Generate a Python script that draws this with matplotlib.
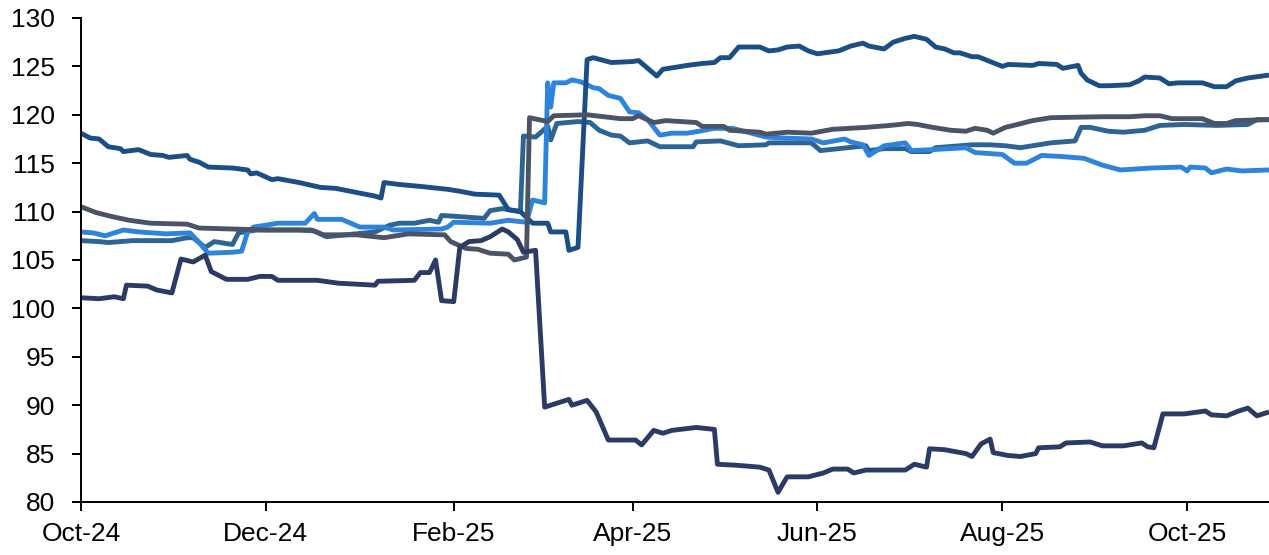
import matplotlib
matplotlib.use("Agg")
import matplotlib.pyplot as plt
import matplotlib.dates as mdates
import pandas as pd

# serie 1: azul marino (cae en marzo hasta ~90)
fechas_a = ["2024-10-01", "2024-10-07", "2024-10-12", "2024-10-15", "2024-10-16", "2024-10-23",
            "2024-10-26", "2024-10-31", "2024-11-03", "2024-11-07", "2024-11-11", "2024-11-13",
            "2024-11-18", "2024-11-25", "2024-11-29", "2024-12-03", "2024-12-05", "2024-12-18",
            "2024-12-25", "2025-01-06", "2025-01-07", "2025-01-19", "2025-01-21", "2025-01-24",
            "2025-01-26", "2025-01-28", "2025-02-01", "2025-02-03", "2025-02-06", "2025-02-10",
            "2025-02-13", "2025-02-17", "2025-02-19", "2025-02-22", "2025-02-24", "2025-02-28",
            "2025-03-03", "2025-03-07", "2025-03-11", "2025-03-12", "2025-03-17", "2025-03-20",
            "2025-03-24", "2025-04-02", "2025-04-04", "2025-04-08", "2025-04-11", "2025-04-14",
            "2025-04-22", "2025-04-28", "2025-04-29", "2025-05-05", "2025-05-13", "2025-05-16",
            "2025-05-19", "2025-05-22", "2025-05-29", "2025-06-03", "2025-06-06", "2025-06-11",
            "2025-06-13", "2025-06-17", "2025-06-30", "2025-07-03", "2025-07-07", "2025-07-08",
            "2025-07-13", "2025-07-20", "2025-07-22", "2025-07-25", "2025-07-28", "2025-07-29",
            "2025-08-03", "2025-08-07", "2025-08-12", "2025-08-13", "2025-08-20", "2025-08-22",
            "2025-08-30", "2025-09-03", "2025-09-10", "2025-09-16", "2025-09-18", "2025-09-20",
            "2025-09-23", "2025-09-30", "2025-10-07", "2025-10-09", "2025-10-14", "2025-10-18",
            "2025-10-21", "2025-10-24", "2025-10-28"]
valores_a = [101.1, 101.0, 101.2, 101.0, 102.4, 102.3,
             101.9, 101.6, 105.1, 104.8, 105.5, 103.8,
             103.0, 103.0, 103.3, 103.3, 102.9, 102.9,
             102.6, 102.4, 102.8, 102.9, 103.7, 103.7,
             105.0, 100.8, 100.7, 106.3, 106.9, 107.0,
             107.4, 108.2, 107.9, 107.1, 105.8, 106.0,
             89.8, 90.2, 90.6, 90.0, 90.5, 89.3,
             86.4, 86.4, 85.9, 87.4, 87.1, 87.4,
             87.7, 87.5, 83.9, 83.8, 83.6, 83.3,
             81.0, 82.6, 82.6, 83.0, 83.4, 83.4,
             83.0, 83.3, 83.3, 83.9, 83.6, 85.5,
             85.4, 85.0, 84.7, 86.0, 86.5, 85.1,
             84.8, 84.7, 85.0, 85.6, 85.7, 86.1,
             86.2, 85.8, 85.8, 86.1, 85.7, 85.6,
             89.1, 89.1, 89.4, 89.0, 88.9, 89.4,
             89.7, 88.9, 89.3]

# serie 2: azul oscuro (salta a ~126 a mediados de marzo)
fechas_b = ["2024-10-01", "2024-10-04", "2024-10-07", "2024-10-10", "2024-10-14", "2024-10-15",
            "2024-10-20", "2024-10-24", "2024-10-28", "2024-10-30", "2024-11-05", "2024-11-06",
            "2024-11-09", "2024-11-12", "2024-11-20", "2024-11-25", "2024-11-26", "2024-11-28",
            "2024-12-03", "2024-12-05", "2024-12-12", "2024-12-19", "2024-12-24", "2025-01-06",
            "2025-01-08", "2025-01-09", "2025-01-14", "2025-01-21", "2025-01-30", "2025-02-03",
            "2025-02-08", "2025-02-16", "2025-02-19", "2025-02-23", "2025-02-25", "2025-02-27",
            "2025-03-04", "2025-03-05", "2025-03-10", "2025-03-11", "2025-03-14", "2025-03-17",
            "2025-03-19", "2025-03-25", "2025-04-01", "2025-04-03", "2025-04-06", "2025-04-09",
            "2025-04-11", "2025-04-15", "2025-04-19", "2025-04-24", "2025-04-28", "2025-04-30",
            "2025-05-03", "2025-05-06", "2025-05-13", "2025-05-16", "2025-05-19", "2025-05-22",
            "2025-05-26", "2025-05-29", "2025-06-01", "2025-06-08", "2025-06-12", "2025-06-16",
            "2025-06-18", "2025-06-23", "2025-06-26", "2025-06-30", "2025-07-03", "2025-07-07",
            "2025-07-10", "2025-07-13", "2025-07-16", "2025-07-18", "2025-07-22", "2025-07-24",
            "2025-07-28", "2025-08-01", "2025-08-03", "2025-08-11", "2025-08-13", "2025-08-19",
            "2025-08-21", "2025-08-26", "2025-08-27", "2025-08-29", "2025-09-02", "2025-09-05",
            "2025-09-12", "2025-09-15", "2025-09-17", "2025-09-22", "2025-09-25", "2025-09-28",
            "2025-10-06", "2025-10-10", "2025-10-14", "2025-10-17", "2025-10-21", "2025-10-28"]
valores_b = [118.1, 117.6, 117.5, 116.7, 116.5, 116.2,
             116.4, 115.9, 115.8, 115.6, 115.8, 115.4,
             115.1, 114.6, 114.5, 114.3, 113.9, 114.0,
             113.3, 113.4, 113.0, 112.5, 112.4, 111.6,
             111.4, 113.0, 112.8, 112.6, 112.3, 112.1,
             111.8, 111.7, 110.2, 110.0, 109.4, 108.8,
             108.8, 107.9, 107.9, 106.0, 106.3, 125.7,
             125.9, 125.4, 125.5, 125.6, 124.8, 124.0,
             124.7, 124.9, 125.1, 125.3, 125.4, 125.9,
             125.9, 127.0, 127.0, 126.6, 126.7, 127.0,
             127.1, 126.6, 126.3, 126.6, 127.1, 127.4,
             127.1, 126.8, 127.5, 127.9, 128.1, 127.8,
             127.0, 126.8, 126.4, 126.4, 126.0, 126.0,
             125.5, 125.0, 125.2, 125.1, 125.3, 125.2,
             124.8, 125.1, 124.3, 123.6, 123.0, 123.0,
             123.1, 123.5, 123.9, 123.8, 123.2, 123.3,
             123.3, 122.9, 122.9, 123.5, 123.8, 124.1]

# serie 3: azul claro (salta a ~123 a principios de marzo)
fechas_c = ["2024-10-01", "2024-10-05", "2024-10-09", "2024-10-15", "2024-10-20", "2024-10-29",
            "2024-11-06", "2024-11-09", "2024-11-12", "2024-11-20", "2024-11-23", "2024-11-25",
            "2024-11-27", "2024-12-05", "2024-12-14", "2024-12-17", "2024-12-18", "2024-12-26",
            "2025-01-01", "2025-01-09", "2025-01-12", "2025-01-28", "2025-01-30", "2025-02-01",
            "2025-02-13", "2025-02-19", "2025-02-25", "2025-02-27", "2025-03-03", "2025-03-04",
            "2025-03-05", "2025-03-06", "2025-03-10", "2025-03-12", "2025-03-15", "2025-03-19",
            "2025-03-21", "2025-03-24", "2025-03-28", "2025-03-31", "2025-04-03", "2025-04-06",
            "2025-04-10", "2025-04-14", "2025-04-19", "2025-04-23", "2025-04-28", "2025-05-04",
            "2025-05-09", "2025-05-15", "2025-05-21", "2025-05-30", "2025-06-03", "2025-06-10",
            "2025-06-12", "2025-06-16", "2025-06-18", "2025-06-23", "2025-06-30", "2025-07-02",
            "2025-07-09", "2025-07-20", "2025-07-23", "2025-08-01", "2025-08-05", "2025-08-09",
            "2025-08-14", "2025-08-20", "2025-08-28", "2025-09-03", "2025-09-09", "2025-09-19",
            "2025-09-29", "2025-10-01", "2025-10-02", "2025-10-07", "2025-10-09", "2025-10-14",
            "2025-10-19", "2025-10-28"]
valores_c = [107.9, 107.8, 107.5, 108.1, 107.9, 107.7,
             107.8, 106.8, 105.7, 105.8, 105.9, 107.9,
             108.4, 108.8, 108.8, 109.8, 109.2, 109.2,
             108.4, 108.4, 108.1, 108.2, 108.4, 108.9,
             108.8, 109.1, 108.9, 111.2, 110.9, 123.3,
             120.8, 123.3, 123.3, 123.6, 123.4, 122.8,
             122.7, 122.0, 121.7, 120.3, 120.2, 119.5,
             117.9, 118.1, 118.1, 118.3, 118.6, 118.6,
             118.2, 117.7, 117.6, 117.5, 117.1, 117.5,
             117.2, 116.9, 115.8, 116.8, 117.1, 116.3,
             116.4, 116.6, 116.1, 115.9, 115.0, 115.0,
             115.8, 115.7, 115.5, 114.8, 114.3, 114.5,
             114.6, 114.2, 114.6, 114.5, 114.0, 114.4,
             114.2, 114.3]

# serie 4: gris (salta a ~120 a finales de febrero)
fechas_d = ["2024-10-01", "2024-10-06", "2024-10-11", "2024-10-17", "2024-10-24", "2024-11-05",
            "2024-11-09", "2024-11-20", "2024-12-01", "2024-12-16", "2024-12-20", "2024-12-31",
            "2025-01-09", "2025-01-17", "2025-01-29", "2025-01-31", "2025-02-05", "2025-02-09",
            "2025-02-13", "2025-02-19", "2025-02-21", "2025-02-25", "2025-02-26", "2025-03-04",
            "2025-03-06", "2025-03-17", "2025-03-28", "2025-04-01", "2025-04-03", "2025-04-08",
            "2025-04-12", "2025-04-22", "2025-04-24", "2025-05-01", "2025-05-03", "2025-05-13",
            "2025-05-15", "2025-05-22", "2025-05-30", "2025-06-06", "2025-06-17", "2025-06-25",
            "2025-07-01", "2025-07-04", "2025-07-09", "2025-07-15", "2025-07-20", "2025-07-23",
            "2025-07-27", "2025-07-29", "2025-08-02", "2025-08-06", "2025-08-11", "2025-08-17",
            "2025-09-03", "2025-09-12", "2025-09-17", "2025-09-22", "2025-09-26", "2025-10-06",
            "2025-10-10", "2025-10-14", "2025-10-17", "2025-10-28"]
valores_d = [110.5, 109.9, 109.5, 109.1, 108.8, 108.7,
             108.3, 108.2, 108.1, 108.1, 107.6, 107.6,
             107.3, 107.7, 107.6, 106.9, 106.2, 106.1,
             105.7, 105.6, 105.0, 105.3, 119.7, 119.3,
             119.9, 120.0, 119.6, 119.6, 119.9, 119.2,
             119.4, 119.2, 118.8, 118.8, 118.4, 118.2,
             118.0, 118.2, 118.1, 118.5, 118.7, 118.9,
             119.1, 119.0, 118.7, 118.4, 118.3, 118.6,
             118.4, 118.1, 118.7, 119.0, 119.4, 119.7,
             119.8, 119.8, 119.9, 119.9, 119.6, 119.6,
             119.1, 119.1, 119.4, 119.5]

# serie 5: azul acero (salta a ~118 a finales de febrero)
fechas_e = ["2024-10-01", "2024-10-07", "2024-10-10", "2024-10-18", "2024-10-31", "2024-11-05",
            "2024-11-07", "2024-11-11", "2024-11-14", "2024-11-20", "2024-11-22", "2024-11-28",
            "2024-12-12", "2024-12-17", "2024-12-21", "2025-01-06", "2025-01-11", "2025-01-14",
            "2025-01-19", "2025-01-24", "2025-01-27", "2025-01-28", "2025-02-02", "2025-02-11",
            "2025-02-13", "2025-02-17", "2025-02-23", "2025-02-24", "2025-02-28", "2025-03-04",
            "2025-03-05", "2025-03-07", "2025-03-14", "2025-03-18", "2025-03-21", "2025-03-25",
            "2025-03-28", "2025-03-31", "2025-04-06", "2025-04-10", "2025-04-21", "2025-04-22",
            "2025-04-30", "2025-05-06", "2025-05-15", "2025-05-16", "2025-05-30", "2025-06-02",
            "2025-06-08", "2025-06-17", "2025-06-18", "2025-06-23", "2025-06-30", "2025-07-02",
            "2025-07-08", "2025-07-10", "2025-07-22", "2025-07-28", "2025-08-02", "2025-08-07",
            "2025-08-17", "2025-08-25", "2025-08-27", "2025-08-30", "2025-09-05", "2025-09-10",
            "2025-09-17", "2025-09-22", "2025-09-30", "2025-10-11", "2025-10-21", "2025-10-24",
            "2025-10-28"]
valores_e = [107.0, 106.9, 106.8, 107.0, 107.0, 107.3,
             107.3, 106.3, 106.9, 106.6, 107.8, 108.1,
             108.1, 108.0, 107.4, 107.9, 108.6, 108.8,
             108.8, 109.1, 108.9, 109.6, 109.5, 109.3,
             110.1, 110.3, 110.0, 117.8, 117.7, 118.8,
             117.4, 119.1, 119.3, 119.2, 118.4, 117.9,
             117.8, 117.1, 117.3, 116.7, 116.7, 117.2,
             117.3, 116.8, 116.9, 117.1, 117.1, 116.3,
             116.5, 116.8, 116.3, 116.5, 116.5, 116.2,
             116.2, 116.6, 116.9, 116.9, 116.8, 116.6,
             117.1, 117.3, 118.7, 118.7, 118.3, 118.2,
             118.4, 118.9, 119.0, 118.9, 119.0, 119.5,
             119.5]

series = [
    (fechas_e, valores_e, "#2d6494"),
    (fechas_c, valores_c, "#2e84da"),
    (fechas_b, valores_b, "#1a4e85"),
    (fechas_d, valores_d, "#4b5467"),
    (fechas_a, valores_a, "#2b3b66"),
]

plt.rcParams["font.family"] = ["Liberation Sans", "DejaVu Sans"]

fig = plt.figure(figsize=(12.69, 5.55), dpi=100)
ax = fig.add_axes([0.0638, 0.0955, 0.9362, 0.8721])

for fechas, valores, color in series:
    ax.plot(pd.to_datetime(fechas), valores, color=color, linewidth=3.5,
            solid_joinstyle="round", solid_capstyle="butt")

ax.set_ylim(80, 130)
ax.set_yticks(range(80, 131, 5))
ax.set_xlim(pd.Timestamp("2024-10-01"), pd.Timestamp("2025-10-28"))
ax.xaxis.set_major_locator(mdates.MonthLocator(bymonth=[2, 4, 6, 8, 10, 12]))
ax.xaxis.set_major_formatter(mdates.DateFormatter("%b-%y"))

for lado in ["top", "right"]:
    ax.spines[lado].set_visible(False)
for lado in ["left", "bottom"]:
    ax.spines[lado].set_linewidth(1.4)
    ax.spines[lado].set_color("black")

ax.tick_params(axis="y", direction="out", length=6.5, width=1.4, pad=12, labelsize=19)
ax.tick_params(axis="x", direction="out", length=6.5, width=1.4, pad=8, labelsize=19)

fig.savefig("out.png", dpi=100)
